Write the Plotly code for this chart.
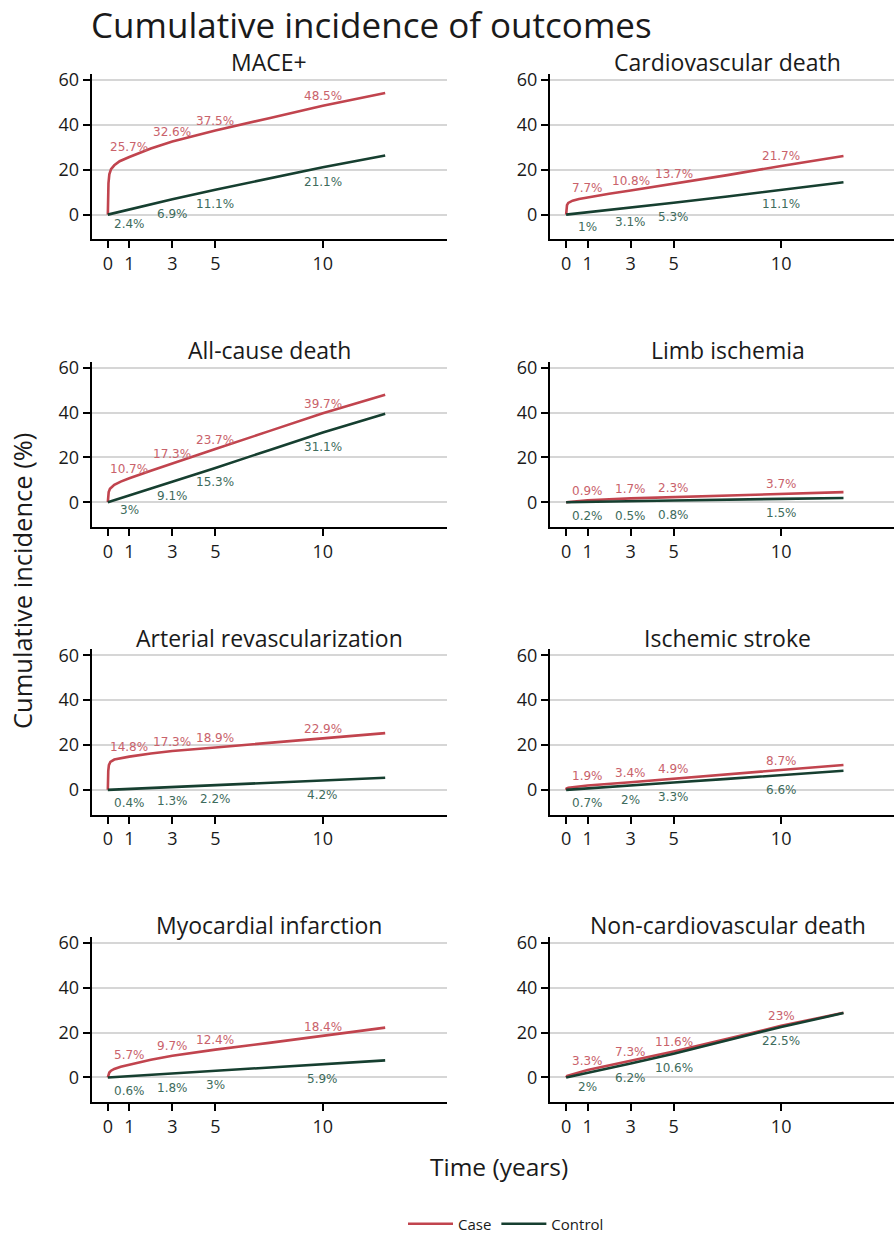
import plotly.graph_objects as go

# ---------------- data ----------------
titles = ["MACE+", "Cardiovascular death", "All-cause death", "Limb ischemia",
          "Arterial revascularization", "Ischemic stroke", "Myocardial infarction",
          "Non-cardiovascular death"]
label_times = [1, 3, 5, 10]
x_ticks = [0, 1, 3, 5, 10]
y_ticks = [0, 20, 40, 60]

mace_case_t = [0, 0.01, 0.03, 0.07, 0.15, 0.3, 0.55, 1, 2, 3, 5, 7.5, 10, 12.9]
mace_case_y = [0, 8, 14, 18, 20.3, 22, 23.8, 25.7, 29.5, 32.6, 37.5, 43, 48.5, 54.2]
mace_ctrl_t = [0, 1, 3, 5, 7.5, 10, 12.9]
mace_ctrl_y = [0, 2.4, 6.9, 11.1, 16.1, 21.1, 26.4]
mace_case_lab = [25.7, 32.6, 37.5, 48.5]
mace_ctrl_lab = [2.4, 6.9, 11.1, 21.1]

cvd_case_t = [0, 0.01, 0.04, 0.1, 0.3, 0.6, 1, 2, 3, 5, 7.5, 10, 12.9]
cvd_case_y = [0, 2.5, 4.2, 5.2, 6.2, 7, 7.7, 9.3, 10.8, 13.7, 17.6, 21.7, 26.1]
cvd_ctrl_t = [0, 1, 3, 5, 7.5, 10, 12.9]
cvd_ctrl_y = [0, 1, 3.1, 5.3, 8.1, 11.1, 14.4]
cvd_case_lab = [7.7, 10.8, 13.7, 21.7]
cvd_ctrl_lab = [1, 3.1, 5.3, 11.1]

acd_case_t = [0, 0.01, 0.04, 0.1, 0.3, 0.6, 1, 2, 3, 5, 7.5, 10, 12.9]
acd_case_y = [0, 2.5, 4.5, 6, 7.8, 9.2, 10.7, 14, 17.3, 23.7, 31.7, 39.7, 47.9]
acd_ctrl_t = [0, 1, 3, 5, 7.5, 10, 12.9]
acd_ctrl_y = [0, 3, 9.1, 15.3, 23.2, 31.1, 39.4]
acd_case_lab = [10.7, 17.3, 23.7, 39.7]
acd_ctrl_lab = [3, 9.1, 15.3, 31.1]

limb_case_t = [0, 1, 3, 5, 7.5, 10, 12.9]
limb_case_y = [0, 0.9, 1.7, 2.3, 3, 3.7, 4.5]
limb_ctrl_t = [0, 1, 3, 5, 10, 12.9]
limb_ctrl_y = [0, 0.2, 0.5, 0.8, 1.5, 1.9]
limb_case_lab = [0.9, 1.7, 2.3, 3.7]
limb_ctrl_lab = [0.2, 0.5, 0.8, 1.5]

arev_case_t = [0, 0.005, 0.02, 0.05, 0.12, 0.3, 0.6, 1, 2, 3, 5, 7.5, 10, 12.9]
arev_case_y = [0, 4, 8.5, 11, 12.5, 13.5, 14.2, 14.8, 16.2, 17.3, 18.9, 20.9, 22.9, 25.3]
arev_ctrl_t = [0, 1, 3, 5, 7.5, 10, 12.9]
arev_ctrl_y = [0, 0.4, 1.3, 2.2, 3.2, 4.2, 5.4]
arev_case_lab = [14.8, 17.3, 18.9, 22.9]
arev_ctrl_lab = [0.4, 1.3, 2.2, 4.2]

strk_case_t = [0, 0.02, 0.1, 1, 3, 5, 7.5, 10, 12.9]
strk_case_y = [0, 0.6, 0.9, 1.9, 3.4, 4.9, 6.8, 8.7, 11.1]
strk_ctrl_t = [0, 1, 3, 5, 7.5, 10, 12.9]
strk_ctrl_y = [0, 0.7, 2, 3.3, 4.9, 6.6, 8.5]
strk_case_lab = [1.9, 3.4, 4.9, 8.7]
strk_ctrl_lab = [0.7, 2, 3.3, 6.6]

mi_case_t = [0, 0.02, 0.07, 0.15, 0.3, 0.6, 1, 2, 3, 5, 7.5, 10, 12.9]
mi_case_y = [0, 1.2, 2.2, 3, 3.8, 4.8, 5.7, 7.9, 9.7, 12.4, 15.4, 18.4, 22.2]
mi_ctrl_t = [0, 1, 3, 5, 7.5, 10, 12.9]
mi_ctrl_y = [0, 0.6, 1.8, 3, 4.4, 5.9, 7.6]
mi_case_lab = [5.7, 9.7, 12.4, 18.4]
mi_ctrl_lab = [0.6, 1.8, 3, 5.9]

ncvd_case_t = [0, 0.05, 1, 3, 5, 7.5, 10, 12.9]
ncvd_case_y = [0, 0.7, 3.3, 7.3, 11.6, 17.2, 23, 28.8]
ncvd_ctrl_t = [0, 1, 3, 5, 7.5, 10, 12.9]
ncvd_ctrl_y = [0, 2, 6.2, 10.6, 16.5, 22.5, 28.7]
ncvd_case_lab = [3.3, 7.3, 11.6, 23]
ncvd_ctrl_lab = [2, 6.2, 10.6, 22.5]

case_t = [mace_case_t, cvd_case_t, acd_case_t, limb_case_t, arev_case_t, strk_case_t, mi_case_t, ncvd_case_t]
case_y = [mace_case_y, cvd_case_y, acd_case_y, limb_case_y, arev_case_y, strk_case_y, mi_case_y, ncvd_case_y]
ctrl_t = [mace_ctrl_t, cvd_ctrl_t, acd_ctrl_t, limb_ctrl_t, arev_ctrl_t, strk_ctrl_t, mi_ctrl_t, ncvd_ctrl_t]
ctrl_y = [mace_ctrl_y, cvd_ctrl_y, acd_ctrl_y, limb_ctrl_y, arev_ctrl_y, strk_ctrl_y, mi_ctrl_y, ncvd_ctrl_y]
case_lab = [mace_case_lab, cvd_case_lab, acd_case_lab, limb_case_lab, arev_case_lab, strk_case_lab, mi_case_lab, ncvd_case_lab]
ctrl_lab = [mace_ctrl_lab, cvd_ctrl_lab, acd_ctrl_lab, limb_ctrl_lab, arev_ctrl_lab, strk_ctrl_lab, mi_ctrl_lab, ncvd_ctrl_lab]

# ---------------- style / layout ----------------
W, H = 894, 1237
CASE_COL = "#c1444e"
CTRL_COL = "#163f30"
CASE_LAB_COL = "#c9626b"
CTRL_LAB_COL = "#3e6b5c"
TXT = "#1a1a1a"
FONT = "Open Sans"

PX_PER_YEAR = 21.5
PANEL_W = 355.3
COL_LEFT = [91.7, 550.0]
ROW_TOP0 = 74.0
PANEL_H = 165.3
ROW_STEP = 287.6
Y_RANGE = [-11.0, 62.7]

fig = go.Figure()
annotations = []
layout_axes = {}

def fmt(v):
    return f"{v:g}%"

for i, title in enumerate(titles):
    r, c = divmod(i, 2)
    n = i + 1
    xa = f"x{n}" if n > 1 else "x"
    ya = f"y{n}" if n > 1 else "y"
    left = COL_LEFT[c]
    right = min(left + PANEL_W, W)
    top = ROW_TOP0 + r * ROW_STEP
    bottom = top + PANEL_H
    x0 = -0.75
    x1 = x0 + (right - left) / PX_PER_YEAR

    fig.add_trace(go.Scatter(x=case_t[i], y=case_y[i], mode="lines",
                             line=dict(color=CASE_COL, width=2.6),
                             name="Case", legendgroup="case", showlegend=(i == 0),
                             xaxis=xa, yaxis=ya, hoverinfo="skip"))
    fig.add_trace(go.Scatter(x=ctrl_t[i], y=ctrl_y[i], mode="lines",
                             line=dict(color=CTRL_COL, width=2.6),
                             name="Control", legendgroup="ctrl", showlegend=(i == 0),
                             xaxis=xa, yaxis=ya, hoverinfo="skip"))

    for t, v in zip(label_times, case_lab[i]):
        annotations.append(dict(x=t, y=v, xref=xa, yref=ya, text=fmt(v), showarrow=False,
                                yshift=9.5, font=dict(family="DejaVu Sans", size=12, color=CASE_LAB_COL)))
    for t, v in zip(label_times, ctrl_lab[i]):
        annotations.append(dict(x=t, y=v, xref=xa, yref=ya, text=fmt(v), showarrow=False,
                                yshift=-14.5, font=dict(family="DejaVu Sans", size=12, color=CTRL_LAB_COL)))

    annotations.append(dict(x=(left + PANEL_W / 2) / W, y=1 - (top - 11.5) / H, xref="paper", yref="paper",
                            text=title, showarrow=False, xanchor="center", yanchor="middle",
                            font=dict(family=FONT, size=23, color=TXT)))

    layout_axes["xaxis" + (str(n) if n > 1 else "")] = dict(
        domain=[left / W, right / W], range=[x0, x1], anchor=ya,
        tickvals=x_ticks, ticktext=[str(v) for v in x_ticks],
        showline=True, linecolor="black", linewidth=2, ticks="outside", ticklen=7,
        tickwidth=1.6, tickcolor="black", showgrid=False, zeroline=False,
        tickfont=dict(family=FONT, size=18, color=TXT), fixedrange=True, automargin=False)
    layout_axes["yaxis" + (str(n) if n > 1 else "")] = dict(
        domain=[1 - bottom / H, 1 - top / H], range=Y_RANGE, anchor=xa,
        tickvals=y_ticks, ticktext=[str(v) for v in y_ticks],
        showline=True, linecolor="black", linewidth=2, ticks="outside", ticklen=7,
        tickwidth=1.6, tickcolor="black", showgrid=True, gridcolor="#d6d6d6", gridwidth=1.5,
        zeroline=False, tickfont=dict(family=FONT, size=18, color=TXT), fixedrange=True, automargin=False)

annotations.append(dict(x=89 / W, y=1 - 24.5 / H, xref="paper", yref="paper",
                        text="Cumulative incidence of outcomes", showarrow=False,
                        xanchor="left", yanchor="middle", font=dict(family=FONT, size=35, color=TXT)))
annotations.append(dict(x=22 / W, y=1 - 581 / H, xref="paper", yref="paper",
                        text="Cumulative incidence (%)", showarrow=False, textangle=-90,
                        xanchor="center", yanchor="middle", font=dict(family=FONT, size=25.5, color=TXT)))
annotations.append(dict(x=499 / W, y=1 - 1166 / H, xref="paper", yref="paper",
                        text="Time (years)", showarrow=False,
                        xanchor="center", yanchor="middle", font=dict(family=FONT, size=24.5, color=TXT)))

fig.update_layout(
    width=W, height=H, margin=dict(l=0, r=0, t=0, b=0, autoexpand=False),
    paper_bgcolor="white", plot_bgcolor="white",
    annotations=annotations,
    legend=dict(orientation="h", x=506 / W, xanchor="center", y=1 - 1224 / H, yanchor="middle",
                itemwidth=45,
                font=dict(family=FONT, size=15, color=TXT), bgcolor="rgba(0,0,0,0)"),
    **layout_axes,
)

fig.write_html("out.html", config={"displayModeBar": False},
               post_script="document.body.style.margin='0';document.body.style.overflow='hidden';")
